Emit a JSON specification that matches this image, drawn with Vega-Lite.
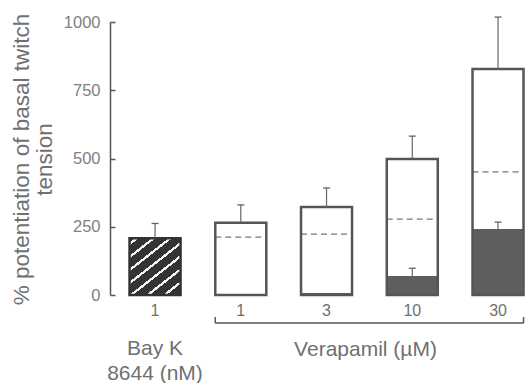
{
  "$schema": "https://vega.github.io/schema/vega-lite/v6.json",
  "width": 415,
  "height": 273,
  "autosize": {"type": "none"},
  "padding": {"left": 110, "top": 22, "right": 0, "bottom": 88},
  "background": "white",
  "config": {"view": {"stroke": null}, "font": "Liberation Sans"},
  "title": {
    "text": ["Bay K", "8644 (nM)"],
    "orient": "bottom",
    "anchor": "start",
    "frame": "group",
    "align": "center",
    "dx": 45,
    "offset": -21,
    "fontSize": 21,
    "fontWeight": "normal",
    "font": "Liberation Sans",
    "color": "#707070",
    "lineHeight": 25
  },
  "data": {
    "values": [
      {"cat": "bay", "group": "Bay K 8644", "total": 208, "err": 262, "dash": null, "stip": null, "stipErr": null},
      {"cat": "v1", "group": "Verapamil", "total": 265, "err": 330, "dash": 212, "stip": 0, "stipErr": null},
      {"cat": "v3", "group": "Verapamil", "total": 322, "err": 392, "dash": 223, "stip": 7, "stipErr": null},
      {"cat": "v10", "group": "Verapamil", "total": 498, "err": 582, "dash": 278, "stip": 70, "stipErr": 98},
      {"cat": "v30", "group": "Verapamil", "total": 828, "err": 1018, "dash": 451, "stip": 242, "stipErr": 267}
    ]
  },
  "encoding": {
    "x": {
      "field": "cat",
      "type": "nominal",
      "sort": null,
      "scale": {"domain": ["bay", "v1", "v3", "v10", "v30"], "paddingInner": 0.405, "paddingOuter": 0.1225, "align": 0.93},
      "axis": {
        "title": "Verapamil (µM)",
        "titleX": 255,
        "titleY": 60,
        "titleBaseline": "alphabetic",
        "titleAlign": "center",
        "titleFontSize": 21,
        "titleFontWeight": "normal",
        "titleColor": "#707070",
        "domain": false,
        "ticks": false,
        "labelAngle": 0,
        "labelFontSize": 16,
        "labelColor": "#707070",
        "labelPadding": 7,
        "labelExpr": "datum.value == 'bay' ? '1' : replace(datum.value, 'v', '')"
      }
    }
  },
  "layer": [
    {
      "transform": [{"filter": "datum.cat == 'bay'"}],
      "mark": {
        "type": "bar",
        "stroke": "#333333",
        "strokeWidth": 2.5,
        "fill": {
          "gradient": "linear",
          "x1": 0, "y1": 0, "x2": 0.8, "y2": 1.14,
          "stops": [
            {"offset": 0, "color": "#333333"},
            {"offset": 0.045, "color": "#333333"},
            {"offset": 0.045, "color": "#f4f4f4"},
            {"offset": 0.075, "color": "#f4f4f4"},
            {"offset": 0.075, "color": "#333333"},
            {"offset": 0.18, "color": "#333333"},
            {"offset": 0.18, "color": "#f4f4f4"},
            {"offset": 0.21, "color": "#f4f4f4"},
            {"offset": 0.21, "color": "#333333"},
            {"offset": 0.315, "color": "#333333"},
            {"offset": 0.315, "color": "#f4f4f4"},
            {"offset": 0.345, "color": "#f4f4f4"},
            {"offset": 0.345, "color": "#333333"},
            {"offset": 0.45, "color": "#333333"},
            {"offset": 0.45, "color": "#f4f4f4"},
            {"offset": 0.48, "color": "#f4f4f4"},
            {"offset": 0.48, "color": "#333333"},
            {"offset": 0.585, "color": "#333333"},
            {"offset": 0.585, "color": "#f4f4f4"},
            {"offset": 0.615, "color": "#f4f4f4"},
            {"offset": 0.615, "color": "#333333"},
            {"offset": 0.72, "color": "#333333"},
            {"offset": 0.72, "color": "#f4f4f4"},
            {"offset": 0.75, "color": "#f4f4f4"},
            {"offset": 0.75, "color": "#333333"},
            {"offset": 0.855, "color": "#333333"},
            {"offset": 0.855, "color": "#f4f4f4"},
            {"offset": 0.885, "color": "#f4f4f4"},
            {"offset": 0.885, "color": "#333333"},
            {"offset": 1, "color": "#333333"}
          ]
        }
      },
      "encoding": {
        "y": {
          "field": "total",
          "type": "quantitative",
          "scale": {"domain": [0, 1000], "nice": false},
          "axis": {
            "values": [0, 250, 500, 750, 1000],
            "format": "d",
            "grid": false,
            "domainColor": "#555555",
            "domainWidth": 1.5,
            "tickColor": "#555555",
            "tickWidth": 1.5,
            "tickSize": -5,
            "labelPadding": 15,
            "labelFontSize": 16.5,
            "labelColor": "#808080",
            "title": ["% potentiation of basal twitch", "tension"],
            "titleX": -82,
            "titleY": 137,
            "titleAngle": -90,
            "titleAlign": "center",
            "titleBaseline": "alphabetic",
            "titleLineHeight": 23,
            "titleFontSize": 22.5,
            "titleFontWeight": "normal",
            "titleColor": "#707070"
          }
        }
      }
    },
    {
      "transform": [{"filter": "datum.group == 'Verapamil'"}],
      "mark": {"type": "bar", "fill": "white"},
      "encoding": {"y": {"field": "total", "type": "quantitative"}}
    },
    {
      "transform": [{"filter": "datum.stip > 0"}],
      "mark": {"type": "bar", "fill": "#5e5e5e"},
      "encoding": {"y": {"field": "stip", "type": "quantitative"}}
    },
    {
      "transform": [{"filter": "datum.dash != null"}],
      "mark": {"type": "rule", "stroke": "#777777", "strokeWidth": 1.3, "strokeDash": [6, 4]},
      "encoding": {
        "x": {"field": "cat", "type": "nominal", "bandPosition": 0},
        "x2": {"field": "cat", "bandPosition": 1},
        "y": {"field": "dash", "type": "quantitative"}
      }
    },
    {
      "transform": [{"filter": "datum.group == 'Verapamil'"}],
      "mark": {"type": "bar", "fill": null, "fillOpacity": 0, "stroke": "#555555", "strokeWidth": 2.5},
      "encoding": {"y": {"field": "total", "type": "quantitative"}}
    },
    {
      "mark": {"type": "rule", "stroke": "#666666", "strokeWidth": 1.2},
      "encoding": {
        "y": {"field": "total", "type": "quantitative"},
        "y2": {"field": "err"}
      }
    },
    {
      "mark": {"type": "tick", "color": "#666666", "size": 7, "thickness": 1.3, "opacity": 1},
      "encoding": {"y": {"field": "err", "type": "quantitative"}}
    },
    {
      "transform": [{"filter": "datum.stipErr != null"}],
      "mark": {"type": "rule", "stroke": "#666666", "strokeWidth": 1.2},
      "encoding": {
        "y": {"field": "stip", "type": "quantitative"},
        "y2": {"field": "stipErr"}
      }
    },
    {
      "transform": [{"filter": "datum.stipErr != null"}],
      "mark": {"type": "tick", "color": "#666666", "size": 7, "thickness": 1.3, "opacity": 1},
      "encoding": {"y": {"field": "stipErr", "type": "quantitative"}}
    },
    {
      "data": {"values": [{"part": "bracket"}]},
      "mark": {"type": "rule", "stroke": "#555555", "strokeWidth": 1.5},
      "encoding": {
        "x": {"datum": "v1", "bandPosition": 0},
        "x2": {"datum": "v30", "bandPosition": 1},
        "y": {"datum": -103}
      }
    },
    {
      "data": {"values": [{"part": "bracket-left"}]},
      "mark": {"type": "rule", "stroke": "#555555", "strokeWidth": 1.5},
      "encoding": {
        "x": {"datum": "v1", "bandPosition": 0},
        "y": {"datum": -103},
        "y2": {"datum": -81}
      }
    },
    {
      "data": {"values": [{"part": "bracket-right"}]},
      "mark": {"type": "rule", "stroke": "#555555", "strokeWidth": 1.5},
      "encoding": {
        "x": {"datum": "v30", "bandPosition": 1},
        "y": {"datum": -103},
        "y2": {"datum": -81}
      }
    }
  ]
}
